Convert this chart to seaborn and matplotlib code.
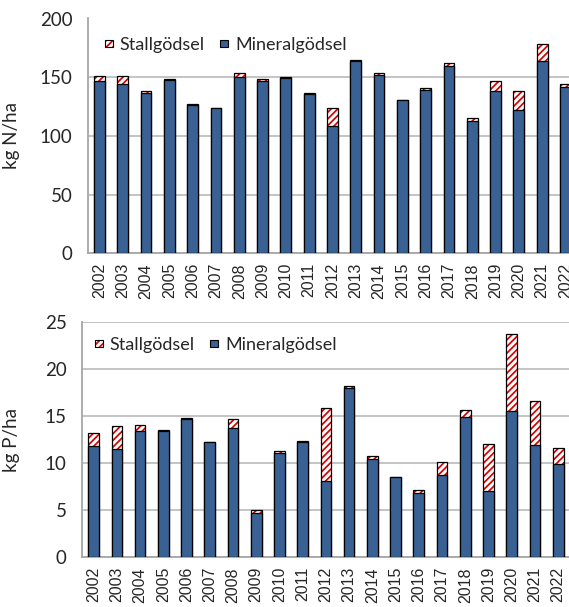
import matplotlib
matplotlib.use("Agg")
import matplotlib.pyplot as plt
from matplotlib.patches import Patch
import seaborn as sns
import pandas as pd

years = [str(y) for y in range(2002, 2023)]

# kg N/ha
n_mineral = [147.0, 144.0, 136.5, 147.5, 126.0, 124.0, 150.2, 147.0, 149.0, 136.0,
             108.4, 163.5, 151.9, 130.6, 139.1, 159.3, 113.0, 138.5, 122.0, 163.5, 141.6]
n_stall = [4.3, 6.8, 1.7, 1.0, 1.2, 0.0, 3.4, 1.2, 1.2, 0.8,
           15.6, 1.4, 1.4, 0.0, 1.4, 2.5, 2.0, 8.0, 16.2, 15.0, 2.6]

# kg P/ha
p_mineral = [11.84, 11.49, 13.47, 13.47, 14.70, 12.30, 13.72, 4.68, 11.10, 12.30,
             8.15, 18.00, 10.46, 8.51, 6.84, 8.76, 14.89, 7.05, 15.56, 11.91, 9.90]
p_stall = [1.36, 2.48, 0.57, 0.11, 0.09, 0.0, 1.03, 0.39, 0.18, 0.10,
           7.70, 0.26, 0.28, 0.0, 0.32, 1.34, 0.78, 5.00, 8.20, 4.72, 1.70]

legend_labels = ["Stallgödsel", "Mineralgödsel"]

BLUE = "#3A6193"
RED = "#D80000"
GRID = "#BFBFBF"
SPINE = "#A6A6A6"

sns.set_style("white")
plt.rcParams["hatch.linewidth"] = 1.25

fig = plt.figure(figsize=(5.69, 6.07), dpi=100)
ax1 = fig.add_axes([87.8 / 569, (607 - 253.3) / 607, 489.3 / 569, (253.3 - 18.5) / 607])
ax2 = fig.add_axes([82.0 / 569, (607 - 557.3) / 607, 487.8 / 569, (557.3 - 322.3) / 607])


def draw(ax, mineral, stall, ymax, ystep, ylabel, leg_xy, label_x):
    total = [m + s for m, s in zip(mineral, stall)]
    df = pd.DataFrame({"year": years, "mineral": mineral, "total": total})
    # hatched stallgödsel layer (drawn as full total, mineral on top)
    sns.barplot(data=df, x="year", y="total", ax=ax, color="white", width=0.46,
                edgecolor=RED, linewidth=0, hatch="/////", zorder=2, saturation=1)
    sns.barplot(data=df, x="year", y="total", ax=ax, fill=False, width=0.46,
                edgecolor="black", linewidth=0.9, zorder=3)
    sns.barplot(data=df, x="year", y="mineral", ax=ax, color=BLUE, width=0.46,
                edgecolor="black", linewidth=0.9, zorder=4, saturation=1)
    ax.set_xlim(-0.5, len(years) - 0.5)
    ax.set_ylim(0, ymax)
    ax.set_yticks(range(0, ymax + 1, ystep))
    ax.yaxis.grid(True, color=GRID, linewidth=1.3, zorder=0)
    ax.set_axisbelow(True)
    for s in ["top", "right"]:
        ax.spines[s].set_visible(False)
    for s in ["left", "bottom"]:
        ax.spines[s].set_color(SPINE)
        ax.spines[s].set_linewidth(1.3)
    ax.set_xticks(range(len(years)))
    ax.set_xticklabels(years, rotation=90, fontfamily="Liberation Sans", fontsize=11.5)
    ax.set_xticks([i - 0.5 for i in range(len(years) + 1)], minor=True)
    ax.tick_params(axis="x", which="major", length=0, pad=7)
    ax.tick_params(axis="x", which="minor", length=5, color=SPINE, width=1.2, direction="out")
    ax.tick_params(axis="y", length=5, color=SPINE, width=1.2, direction="out", pad=6)
    for t in ax.get_yticklabels():
        t.set_fontfamily("Lato")
        t.set_fontsize(13.5)
    ax.set_xlabel("")
    ax.set_ylabel(ylabel, fontfamily="Lato", fontsize=13.5)
    ax.yaxis.set_label_coords(label_x, 0.5)

    handles = [Patch(facecolor="white", edgecolor=RED, hatch="/////", linewidth=0),
               Patch(facecolor=BLUE, edgecolor="black", linewidth=0.8)]
    leg = ax.legend(handles, legend_labels, ncol=2, frameon=False,
                    loc="center left", bbox_to_anchor=leg_xy,
                    bbox_transform=fig.transFigure, borderpad=0, borderaxespad=0,
                    handlelength=0.42, handleheight=0.3, handletextpad=0.4,
                    columnspacing=0.85, prop={"family": "Lato", "size": 13})
    for h in leg.legend_handles:
        h.set_edgecolor("black")
        h.set_linewidth(0.8)
    # keep red hatch on first handle
    leg.legend_handles[0]._hatch_color = matplotlib.colors.to_rgba(RED)


draw(ax1, n_mineral, n_stall, 200, 50, "kg N/ha", (105 / 569, 1 - 45 / 607), (20 - 87.8) / 489.3)
draw(ax2, p_mineral, p_stall, 25, 5, "kg P/ha", (95 / 569, 1 - 345 / 607), (20 - 82) / 487.8)

fig.savefig("out.png", dpi=100)
